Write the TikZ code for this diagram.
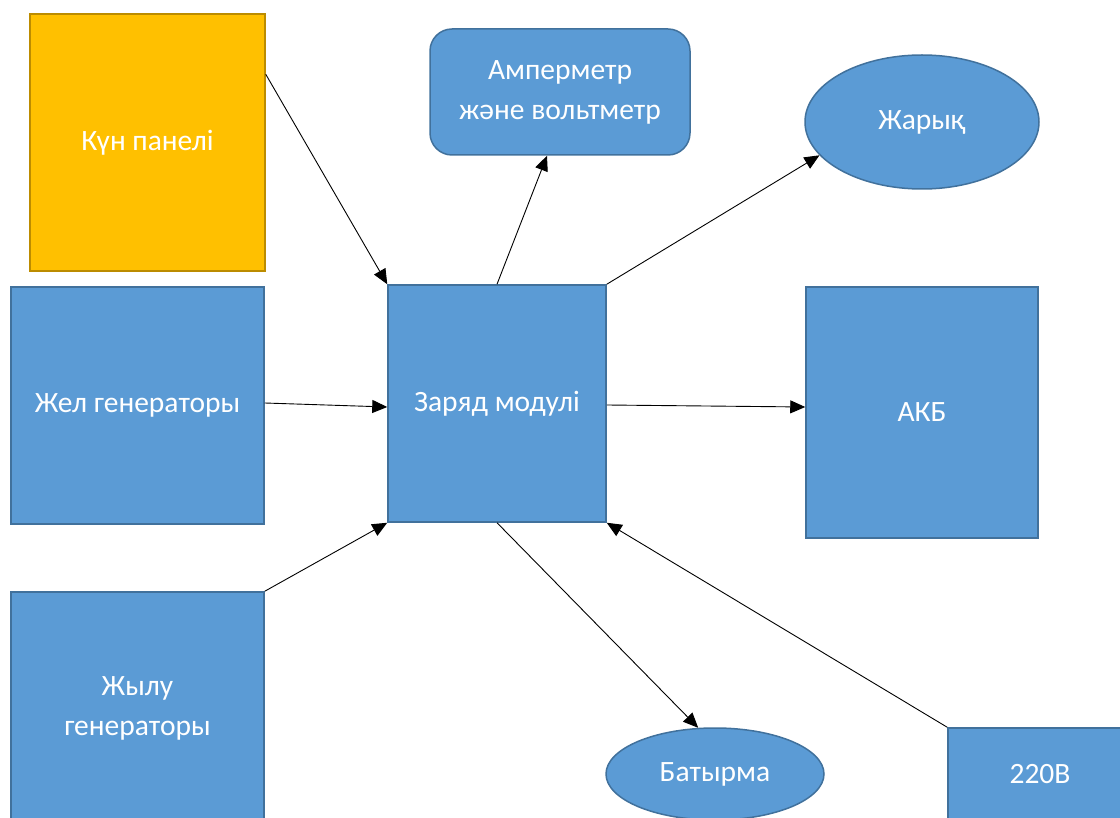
\documentclass[tikz,border=0pt]{standalone}
\usepackage{fontspec}
\setmainfont{Carlito}
\usetikzlibrary{shapes.geometric,arrows.meta}
\definecolor{bfill}{HTML}{5B9BD5}
\definecolor{bdraw}{HTML}{41719C}
\definecolor{ofill}{HTML}{FFC000}
\definecolor{odraw}{HTML}{BC8C00}
\tikzset{
  box/.style={draw=bdraw,fill=bfill,line width=1.5pt,text=white,inner sep=0pt,
    font=\fontsize{29.5}{40}\selectfont,align=center},
  rbox/.style={box,rectangle},
  obox/.style={rbox,draw=odraw,fill=ofill},
  ebox/.style={box,ellipse},
  conn/.style={line width=0.9pt,-{Triangle[length=15pt,width=13pt]}},
}
\begin{document}
\begin{tikzpicture}[x=1pt,y=-1pt]
\useasboundingbox (0,0) rectangle (1120,818);
\clip (0,0) rectangle (1120,818);
\node[obox,minimum width=235pt,minimum height=257pt] (kun) at (147.5,142.5) {Күн панелі};
\node[rbox,minimum width=253pt,minimum height=237pt] (zhel) at (137.5,405.5) {Жел генераторы};
\node[rbox,minimum width=253pt,minimum height=232pt] (zhylu) at (137.5,708) {Жылу\\генераторы};
\node[rbox,minimum width=218pt,minimum height=237pt] (mod) at (497,403.5) {Заряд модулі};
\node[rbox,rounded corners=22pt,minimum width=260pt,minimum height=126pt] (amp) at (560,92) {Амперметр\\және вольтметр};
\node[ebox,minimum width=234pt,minimum height=134pt] (zhar) at (922,122) {Жарық};
\node[rbox,minimum width=232pt,minimum height=251pt] (akb) at (922,412.5) {АКБ};
\node[ebox,minimum width=218pt,minimum height=92pt] (bat) at (715,774) {Батырма};
\node[rbox,minimum width=184pt,minimum height=92pt] (v220) at (1040,774) {220В};
\draw[conn] ([yshift=-61pt]kun.north east) -- (mod.north west);
\draw[conn] (mod.north) -- ([xshift=-13pt]amp.south);
\draw[conn] (mod.north east) -- (zhar.198);
\draw[conn] ([yshift=2.5pt]zhel.east) -- ([yshift=-3.5pt]mod.west);
\draw[conn] ([yshift=-1.5pt]mod.east) -- ([yshift=5.5pt]akb.west);
\draw[conn] (zhylu.north east) -- (mod.south west);
\draw[conn] (mod.south) -- (bat.110);
\draw[conn] (v220.north west) -- (mod.south east);
\end{tikzpicture}
\end{document}
